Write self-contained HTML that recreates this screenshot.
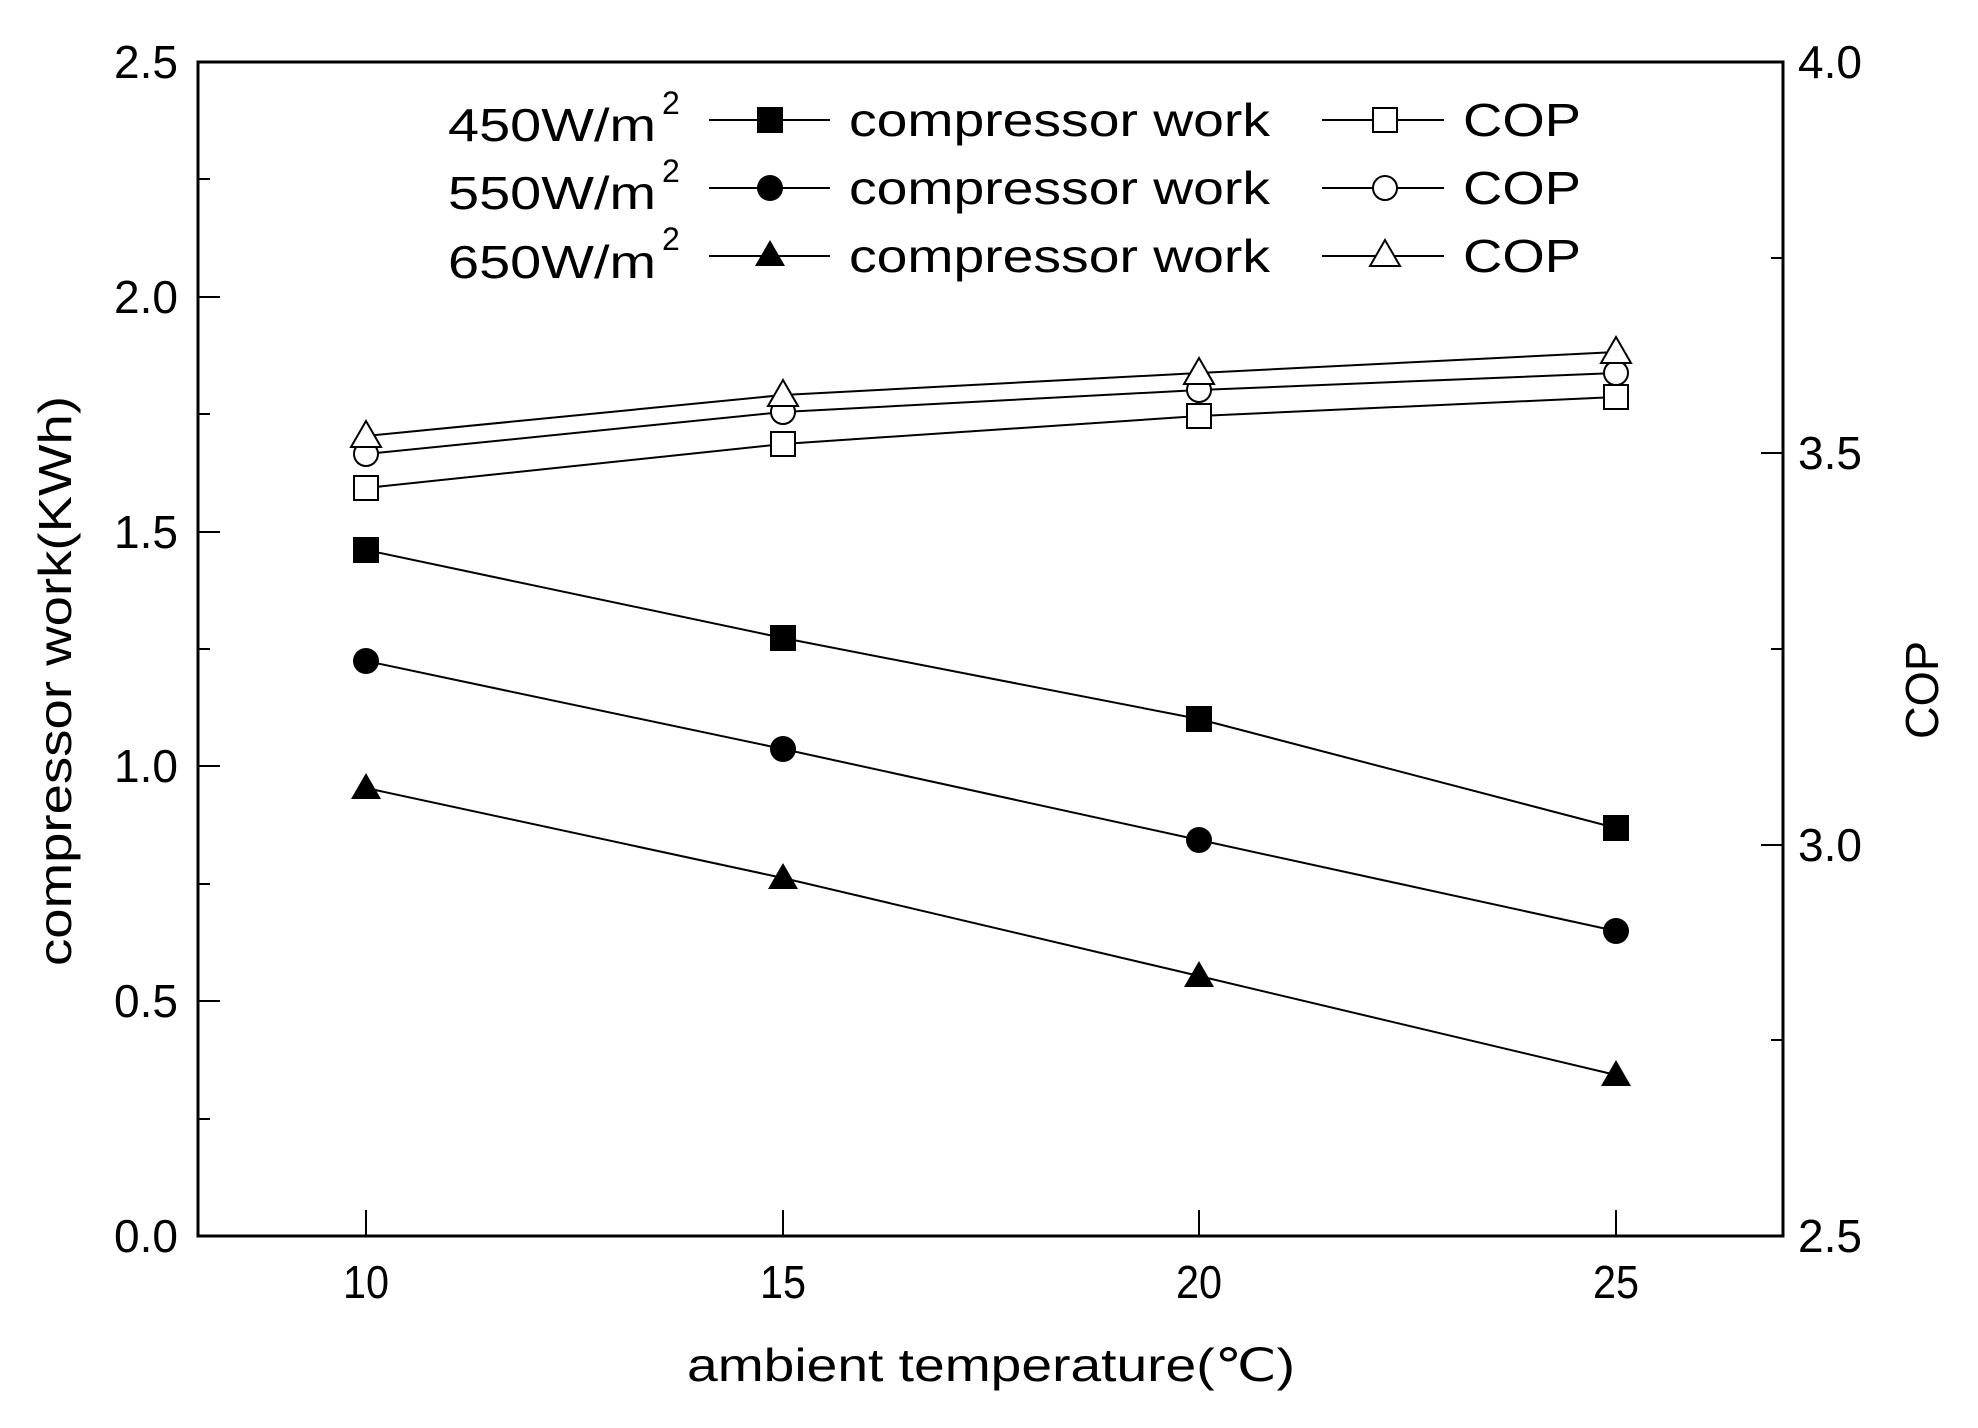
<!DOCTYPE html>
<html><head><meta charset="utf-8"><style>html,body{margin:0;padding:0;background:#fff}svg{display:block}</style></head><body>
<svg width="1978" height="1428" viewBox="0 0 1978 1428" xmlns="http://www.w3.org/2000/svg" font-family="Liberation Sans, Arial, sans-serif" fill="#000">
<rect width="1978" height="1428" fill="#fff"/>
<g stroke="#000" stroke-width="2">
<line x1="198" y1="62" x2="220" y2="62"/><line x1="198" y1="179" x2="210" y2="179"/>
<line x1="198" y1="297" x2="220" y2="297"/><line x1="198" y1="414" x2="210" y2="414"/>
<line x1="198" y1="532" x2="220" y2="532"/><line x1="198" y1="649" x2="210" y2="649"/>
<line x1="198" y1="766" x2="220" y2="766"/><line x1="198" y1="884" x2="210" y2="884"/>
<line x1="198" y1="1001" x2="220" y2="1001"/><line x1="198" y1="1119" x2="210" y2="1119"/>
<line x1="1783" y1="62" x2="1761" y2="62"/><line x1="1783" y1="258" x2="1771" y2="258"/>
<line x1="1783" y1="453" x2="1761" y2="453"/><line x1="1783" y1="649" x2="1771" y2="649"/>
<line x1="1783" y1="845" x2="1761" y2="845"/><line x1="1783" y1="1040" x2="1771" y2="1040"/>
<line x1="366" y1="1236" x2="366" y2="1210"/><line x1="783" y1="1236" x2="783" y2="1210"/>
<line x1="1199" y1="1236" x2="1199" y2="1210"/><line x1="1616" y1="1236" x2="1616" y2="1210"/>
</g>
<rect x="198" y="62" width="1585" height="1174" fill="none" stroke="#000" stroke-width="3"/>
<g font-size="46" text-anchor="end">
<text x="178" y="78" textLength="64" lengthAdjust="spacingAndGlyphs">2.5</text>
<text x="178" y="313" textLength="64" lengthAdjust="spacingAndGlyphs">2.0</text>
<text x="178" y="548" textLength="64" lengthAdjust="spacingAndGlyphs">1.5</text>
<text x="178" y="782" textLength="64" lengthAdjust="spacingAndGlyphs">1.0</text>
<text x="178" y="1017" textLength="64" lengthAdjust="spacingAndGlyphs">0.5</text>
<text x="178" y="1252" textLength="64" lengthAdjust="spacingAndGlyphs">0.0</text>
</g>
<g font-size="46">
<text x="1798" y="78" textLength="64" lengthAdjust="spacingAndGlyphs">4.0</text>
<text x="1798" y="469" textLength="64" lengthAdjust="spacingAndGlyphs">3.5</text>
<text x="1798" y="861" textLength="64" lengthAdjust="spacingAndGlyphs">3.0</text>
<text x="1798" y="1252" textLength="64" lengthAdjust="spacingAndGlyphs">2.5</text>
</g>
<g font-size="46" text-anchor="middle">
<text x="366" y="1298" textLength="46" lengthAdjust="spacingAndGlyphs">10</text><text x="783" y="1298" textLength="46" lengthAdjust="spacingAndGlyphs">15</text><text x="1199" y="1298" textLength="46" lengthAdjust="spacingAndGlyphs">20</text><text x="1616" y="1298" textLength="46" lengthAdjust="spacingAndGlyphs">25</text>
</g>
<text x="991" y="1381" font-size="46" text-anchor="middle" textLength="608" lengthAdjust="spacingAndGlyphs">ambient temperature(℃)</text>
<text transform="translate(71,681) rotate(-90)" font-size="46" text-anchor="middle" textLength="570" lengthAdjust="spacingAndGlyphs">compressor work(KWh)</text>
<text transform="translate(1938,690) rotate(-90)" font-size="46" text-anchor="middle" textLength="98" lengthAdjust="spacingAndGlyphs">COP</text>
<g fill="none" stroke="#000" stroke-width="2">
<polyline points="366,550 783,638 1199,719 1616,828"/>
<polyline points="366,661 783,749 1199,840 1616,931"/>
<polyline points="366,788 783,878 1199,976 1616,1075"/>
<polyline points="366,488 783,444 1199,416 1616,397"/>
<polyline points="366,454 783,412 1199,390 1616,373"/>
<polyline points="366,436 783,395 1199,373 1616,352"/>
</g>
<g fill="#000">
<rect x="353" y="537" width="26" height="26"/><rect x="770" y="625" width="26" height="26"/><rect x="1186" y="706" width="26" height="26"/><rect x="1603" y="815" width="26" height="26"/>
<circle cx="366" cy="661" r="13"/><circle cx="783" cy="749" r="13"/><circle cx="1199" cy="840" r="13"/><circle cx="1616" cy="931" r="13"/>
<polygon points="366,773 381,799 351,799"/><polygon points="783,863 798,889 768,889"/><polygon points="1199,961 1214,987 1184,987"/><polygon points="1616,1060 1631,1086 1601,1086"/>
</g>
<g fill="#fff" stroke="#000" stroke-width="2">
<rect x="354" y="476" width="24" height="24"/><rect x="771" y="432" width="24" height="24"/><rect x="1187" y="404" width="24" height="24"/><rect x="1604" y="385" width="24" height="24"/>
<circle cx="366" cy="454" r="12"/><circle cx="783" cy="412" r="12"/><circle cx="1199" cy="390" r="12"/><circle cx="1616" cy="373" r="12"/>
<polygon points="366,421 381,447 351,447"/><polygon points="783,380 798,406 768,406"/><polygon points="1199,358 1214,384 1184,384"/><polygon points="1616,337 1631,363 1601,363"/>
</g>
<g font-size="46">
<text x="448" y="141" textLength="208" lengthAdjust="spacingAndGlyphs">450W/m</text><text x="662" y="114" font-size="32">2</text>
<text x="448" y="209" textLength="208" lengthAdjust="spacingAndGlyphs">550W/m</text><text x="662" y="182" font-size="32">2</text>
<text x="448" y="278" textLength="208" lengthAdjust="spacingAndGlyphs">650W/m</text><text x="662" y="250" font-size="32">2</text>
<text x="849" y="136" textLength="421" lengthAdjust="spacingAndGlyphs">compressor work</text>
<text x="849" y="204" textLength="421" lengthAdjust="spacingAndGlyphs">compressor work</text>
<text x="849" y="272" textLength="421" lengthAdjust="spacingAndGlyphs">compressor work</text>
<text x="1463" y="136" textLength="118" lengthAdjust="spacingAndGlyphs">COP</text>
<text x="1463" y="204" textLength="118" lengthAdjust="spacingAndGlyphs">COP</text>
<text x="1463" y="272" textLength="118" lengthAdjust="spacingAndGlyphs">COP</text>
</g>
<g stroke="#000" stroke-width="2">
<line x1="709" y1="120" x2="830" y2="120"/><line x1="709" y1="188" x2="830" y2="188"/><line x1="709" y1="256" x2="830" y2="256"/>
<line x1="1322" y1="120" x2="1444" y2="120"/><line x1="1322" y1="188" x2="1444" y2="188"/><line x1="1322" y1="256" x2="1444" y2="256"/>
</g>
<rect x="757" y="107" width="26" height="26"/>
<circle cx="770" cy="188" r="13"/>
<polygon points="770,240 785,266 755,266"/>
<g fill="#fff" stroke="#000" stroke-width="2">
<rect x="1373" y="108" width="24" height="24"/>
<circle cx="1385" cy="188" r="12"/>
<polygon points="1385,240 1400,266 1370,266"/>
</g>
</svg>
</body></html>
